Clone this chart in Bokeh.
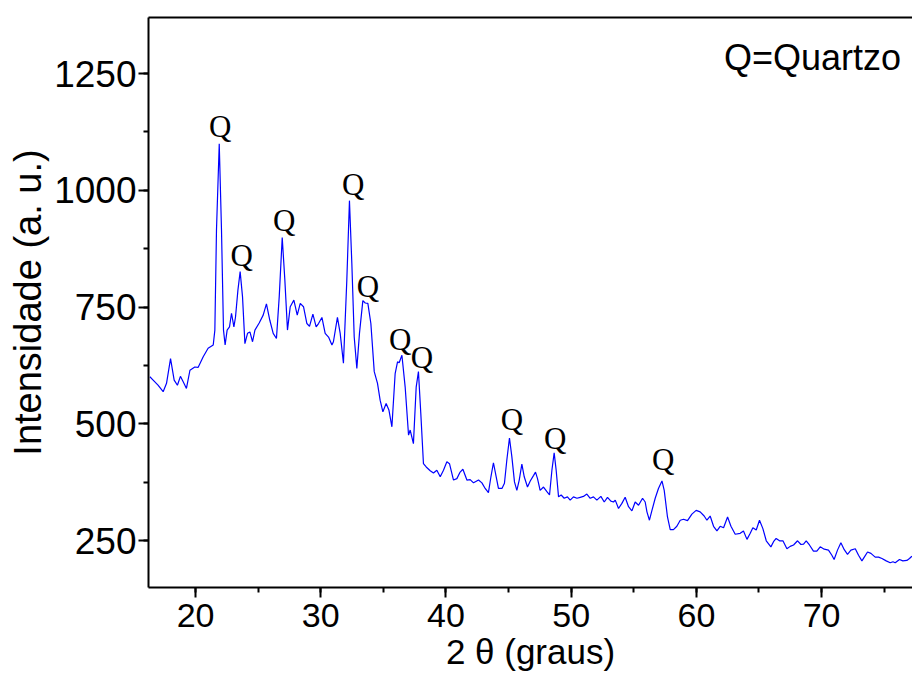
from bokeh.plotting import figure
from bokeh.models import Range1d, SingleIntervalTicker, LinearAxis, FixedTicker, Label
from bokeh.core.properties import value
from bokeh.embed import file_html
from bokeh.resources import INLINE

# XRD pattern: 2 theta (degrees) and intensity (a.u.)
two_theta = [
    16.35, 16.61, 17.0, 17.41, 17.68, 18.0, 18.29, 18.55, 18.79, 19.07, 19.27, 19.55, 19.94,
    20.2, 20.61, 21.0, 21.41, 21.54, 21.67, 21.89, 22.07, 22.23, 22.36, 22.52, 22.71, 22.87,
    23.06, 23.19, 23.38, 23.56, 23.75, 23.94, 24.15, 24.34, 24.55, 24.74, 25.08, 25.4, 25.66,
    25.93, 26.2, 26.46, 26.68, 26.92, 27.13, 27.34, 27.56, 27.85, 28.12, 28.36, 28.62, 28.89,
    29.1, 29.37, 29.63, 29.82, 30.09, 30.35, 30.62, 30.89, 31.01, 31.33, 31.55, 31.81, 32.08,
    32.29, 32.48, 32.67, 32.88, 33.09, 33.36, 33.55, 33.76, 34.0, 34.27, 34.53, 34.74, 34.96,
    35.22, 35.44, 35.68, 35.94, 36.13, 36.26, 36.48, 36.74, 37.01, 37.14, 37.4, 37.62, 37.8,
    37.99, 38.2, 38.42, 38.74, 39.0, 39.27, 39.54, 39.8, 40.07, 40.28, 40.6, 40.87, 41.13,
    41.35, 41.67, 41.93, 42.2, 42.6, 42.87, 43.13, 43.39, 43.59, 43.79, 44.01, 44.19, 44.47,
    44.67, 44.86, 45.07, 45.26, 45.47, 45.66, 45.85, 46.06, 46.25, 46.51, 46.73, 47.0, 47.15,
    47.31, 47.52, 47.79, 48.06, 48.27, 48.46, 48.64, 48.8, 48.99, 49.2, 49.44, 49.7, 49.92,
    50.18, 50.46, 50.72, 50.98, 51.25, 51.52, 51.78, 52.05, 52.37, 52.64, 52.9, 53.17, 53.38,
    53.52, 53.78, 54.05, 54.31, 54.58, 54.85, 55.11, 55.38, 55.7, 55.91, 56.05, 56.25, 56.45,
    56.71, 56.97, 57.25, 57.43, 57.69, 57.91, 58.17, 58.44, 58.71, 58.97, 59.29, 59.64, 59.98,
    60.3, 60.62, 60.84, 61.1, 61.37, 61.64, 61.9, 62.17, 62.49, 62.76, 63.1, 63.5, 63.76,
    64.04, 64.3, 64.51, 64.78, 65.04, 65.31, 65.58, 65.95, 66.16, 66.37, 66.64, 66.91, 67.23,
    67.49, 67.76, 68.08, 68.35, 68.56, 68.77, 69.03, 69.35, 69.62, 69.89, 70.21, 70.55, 70.82,
    71.0, 71.27, 71.54, 71.81, 72.07, 72.34, 72.69, 72.95, 73.22, 73.41, 73.67, 73.94, 74.28,
    74.55, 74.82, 75.16, 75.48, 75.7, 75.88, 76.22, 76.49, 76.81, 77.02, 77.21,
]
intensity = [
    601, 594, 583, 569, 587, 640, 594, 583, 602, 587, 576, 615, 622,
    621, 644, 662, 669, 701, 915, 1100, 915, 701, 669, 701, 708, 737,
    708, 729, 786, 826, 772, 672, 694, 697, 676, 701, 716, 733, 757,
    722, 694, 683, 772, 899, 808, 701, 751, 765, 733, 758, 751, 715,
    709, 735, 708, 715, 728, 694, 686, 669, 676, 728, 694, 630, 808,
    978, 844, 686, 619, 694, 764, 759, 758, 715, 612, 587, 551, 526,
    544, 530, 494, 608, 633, 631, 647, 579, 476, 487, 458, 579, 612,
    522, 415, 408, 400, 395, 401, 387, 401, 419, 415, 380, 383, 397,
    403, 380, 381, 374, 380, 374, 362, 353, 387, 417, 387, 362, 362,
    373, 423, 470, 430, 376, 358, 380, 414, 387, 365, 378, 390, 397,
    383, 358, 365, 355, 348, 401, 438, 401, 344, 348, 341, 344, 337,
    344, 341, 343, 345, 350, 341, 344, 337, 345, 333, 343, 335, 333,
    337, 319, 330, 343, 323, 314, 333, 326, 341, 333, 312, 294, 315,
    341, 362, 378, 358, 301, 274, 274, 281, 294, 296, 293, 307, 315,
    312, 303, 294, 303, 281, 271, 281, 278, 301, 281, 264, 266, 271,
    253, 266, 278, 273, 294, 276, 250, 237, 248, 255, 250, 250, 233,
    238, 241, 250, 242, 243, 250, 241, 228, 228, 237, 232, 230, 219,
    210, 230, 246, 231, 221, 230, 233, 219, 207, 215, 226, 223, 215,
    215, 212, 207, 203, 205, 203, 210, 207, 208, 212, 217,
]

# Quartz peak markers ("Q")
q_label_x = [21.96, 23.69, 27.07, 32.59, 33.77, 36.34, 38.08, 45.26, 48.72, 57.35]
q_label_y = [1136, 860, 935, 1012, 795, 680, 643, 509, 468, 424]
q_labels = ["Q"] * len(q_label_x)

legend_text = "Q=Quartzo"
legend_x = 62.2
legend_y = 1285

x_label = "2 \u03b8 (graus)"
y_label = "Intensidade (a. u.)"

FONT = "Liberation Sans"

p = figure(
    width=912, height=684,
    output_backend="svg", toolbar_location=None,
    x_range=Range1d(16.24, 77.26), y_range=Range1d(150, 1370),
    min_border_left=148, min_border_right=0, min_border_top=17, min_border_bottom=97,
)
p.outline_line_color = None
p.xgrid.visible = False
p.ygrid.visible = False
p.background_fill_color = "white"
p.border_fill_color = "white"

p.line(two_theta, intensity, line_color="#0000ff", line_width=1.2)

p.text(x=q_label_x, y=q_label_y, text=q_labels,
       text_font=value("Liberation Serif"), text_font_size="31px",
       text_align="center", text_baseline="alphabetic", text_color="black")

p.add_layout(Label(x=legend_x, y=legend_y, text=legend_text,
                   text_font=FONT, text_font_size="36px",
                   text_baseline="alphabetic", text_color="black"))

for ax in (p.xaxis[0], p.yaxis[0]):
    ax.axis_line_width = 2
    ax.axis_line_color = "black"
    ax.major_tick_line_width = 2
    ax.minor_tick_line_width = 2
    ax.major_tick_out = 10
    ax.major_tick_in = 0
    ax.minor_tick_out = 5
    ax.minor_tick_in = 0
    ax.major_label_text_font = FONT
    ax.major_label_text_color = "black"
    ax.axis_label_text_font = FONT
    ax.axis_label_text_font_style = "normal"
    ax.axis_label_text_color = "black"

p.xaxis[0].major_label_text_font_size = "34px"
p.yaxis[0].major_label_text_font_size = "37px"
p.xaxis[0].axis_label_text_font_size = "35px"
p.yaxis[0].axis_label_text_font_size = "38px"

p.xaxis[0].ticker = SingleIntervalTicker(interval=10, num_minor_ticks=2)
p.yaxis[0].ticker = SingleIntervalTicker(interval=250, num_minor_ticks=2)
p.xaxis[0].axis_label = x_label
p.yaxis[0].axis_label = y_label
p.xaxis[0].major_label_standoff = 6
p.yaxis[0].major_label_standoff = 2
p.xaxis[0].axis_label_standoff = 2
p.yaxis[0].axis_label_standoff = 2

top = LinearAxis(ticker=FixedTicker(ticks=[]), axis_line_width=2, axis_line_color="black",
                 major_label_text_font_size="0px", major_tick_out=0, minor_tick_out=0)
p.add_layout(top, "above")

open("out.html", "w").write(file_html(p, INLINE))
